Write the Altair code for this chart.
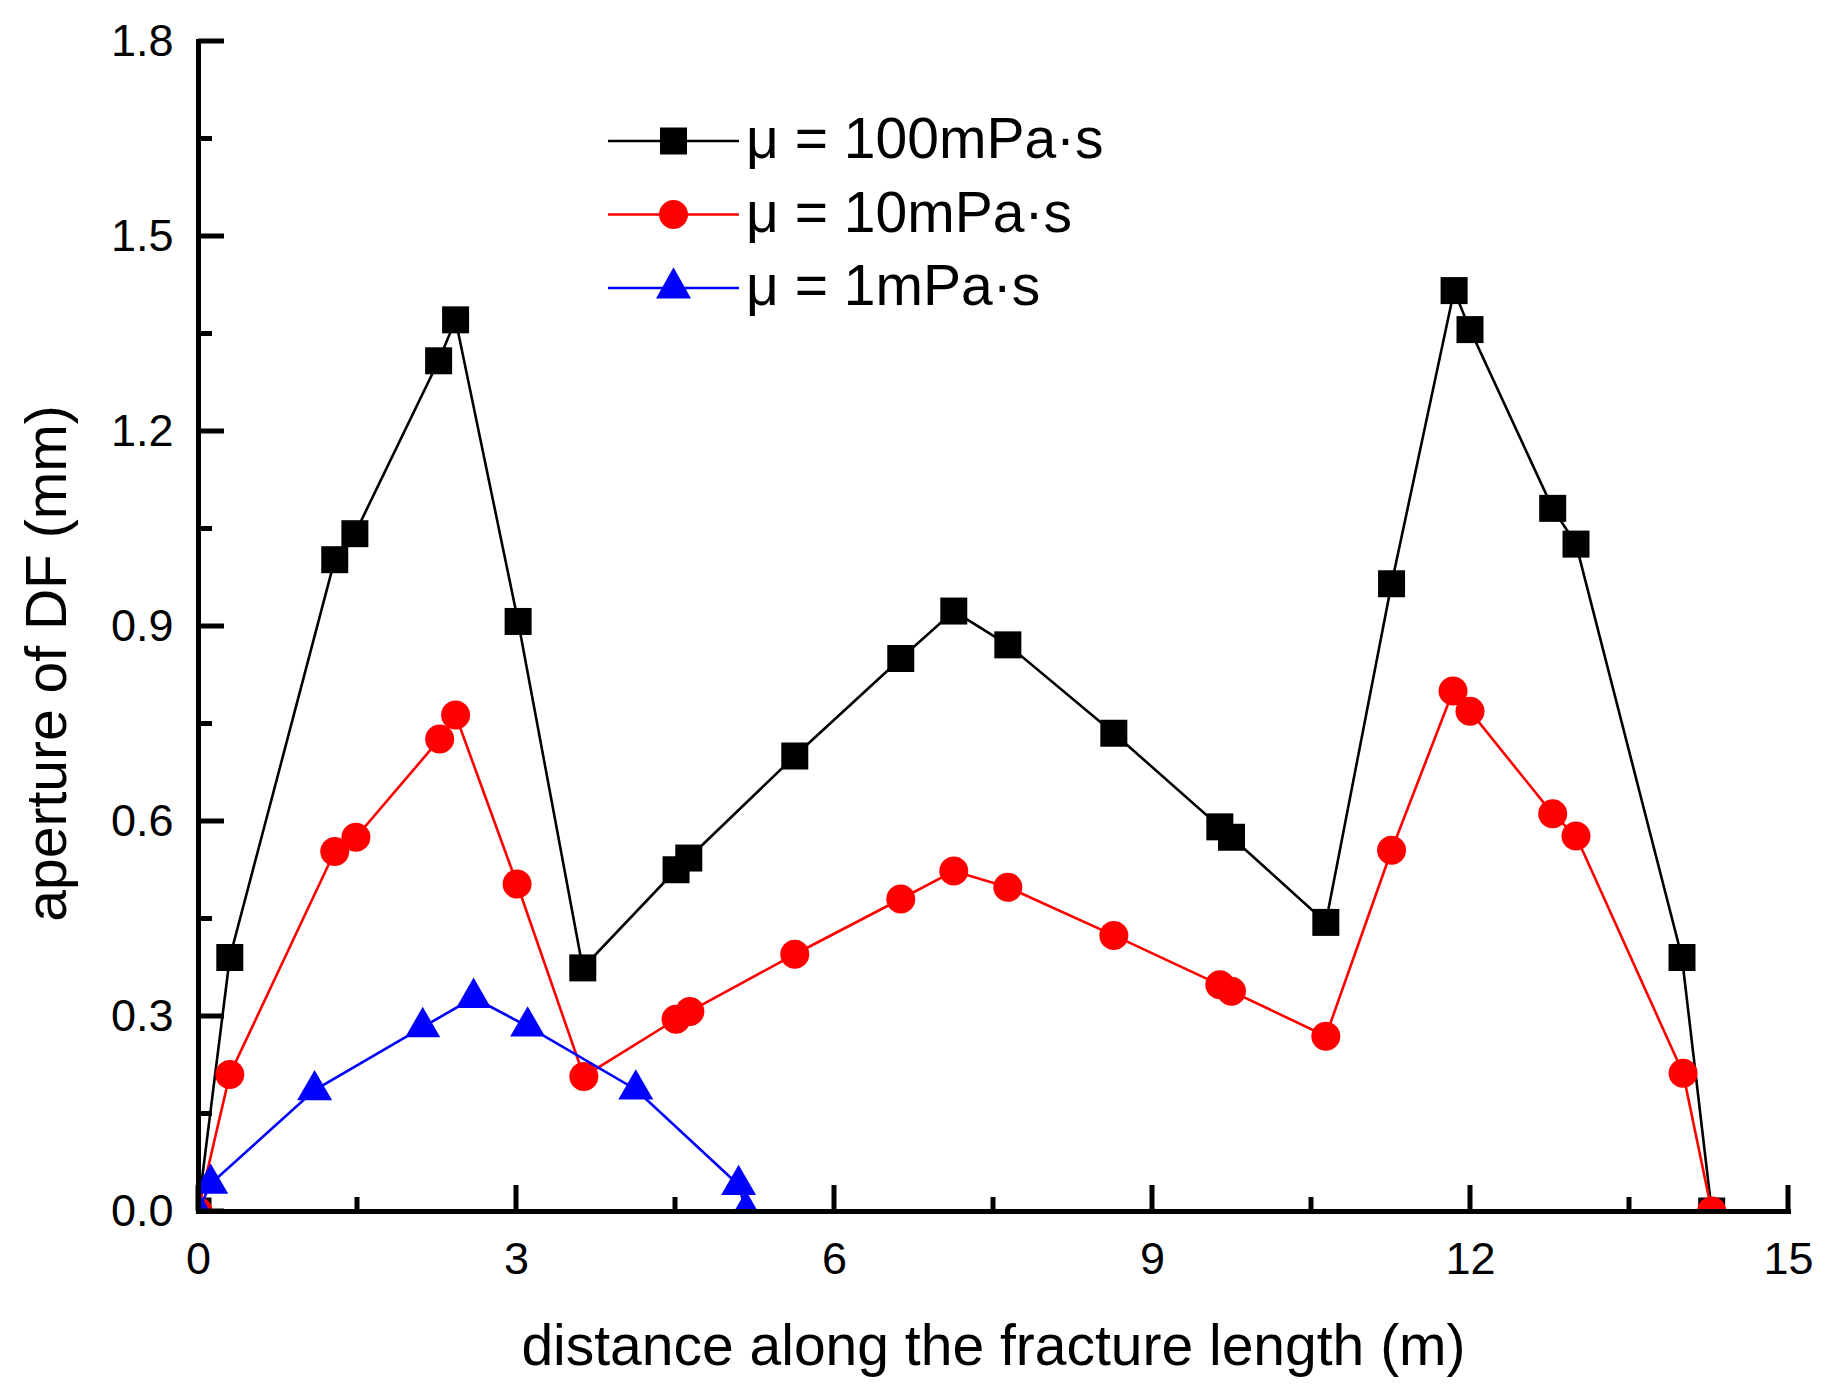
import math
import altair as alt
import pandas as pd

# ---------------- data ----------------
SERIES = ["μ = 100mPa·s", "μ = 10mPa·s", "μ = 1mPa·s"]
COLORS = ["#000000", "#ff0000", "#0000ff"]

x_100 = [0.0, 0.30, 1.29, 1.48, 2.27, 2.43, 3.02, 3.63, 4.51, 4.63, 5.63, 6.63, 7.13,
         7.64, 8.64, 9.64, 9.75, 10.64, 11.26, 11.85, 12.00, 12.78, 13.00, 14.00, 14.28]
y_100 = [0.0, 0.39, 1.002, 1.042, 1.308, 1.371, 0.907, 0.374, 0.525, 0.543, 0.700, 0.850, 0.923,
         0.871, 0.735, 0.591, 0.575, 0.444, 0.965, 1.416, 1.356, 1.081, 1.026, 0.390, 0.0]

x_10 = [0.0, 0.30, 1.29, 1.49, 2.28, 2.43, 3.01, 3.64, 4.51, 4.64, 5.63, 6.63, 7.13,
        7.64, 8.64, 9.64, 9.75, 10.64, 11.26, 11.84, 12.00, 12.78, 13.00, 14.01, 14.28]
y_10 = [0.0, 0.210, 0.553, 0.575, 0.726, 0.763, 0.503, 0.207, 0.295, 0.307, 0.395, 0.480, 0.523,
        0.498, 0.424, 0.348, 0.338, 0.269, 0.555, 0.800, 0.769, 0.611, 0.577, 0.212, 0.0]

x_1 = [0.0, 0.12, 1.10, 2.12, 2.60, 3.11, 4.13, 5.10, 5.17]
y_1 = [0.0, 0.042, 0.186, 0.283, 0.328, 0.284, 0.187, 0.040, 0.0]

x_major = [0, 3, 6, 9, 12, 15]
x_minor = [1.5, 4.5, 7.5, 10.5, 13.5]
y_major = [0.0, 0.3, 0.6, 0.9, 1.2, 1.5, 1.8]
y_minor = [0.15, 0.45, 0.75, 1.05, 1.35, 1.65]

X_TITLE = "distance along the fracture length (m)"
Y_TITLE = "aperture of DF (mm)"

# ---------------- styling ----------------
W, H = 1590, 1170
FONT = "Liberation Sans"
LINE_W = 2.6
AXIS_W = 5
MAJOR_LEN, MINOR_LEN = 26, 14

# marker shapes (triangle centred on its centroid, as in the original)
TRI = "M0,-1.155L1,0.577L-1,0.577Z"
MARKERS = [("square", 729), ("circle", 841), (TRI, 1225)]

# legend symbols: line segment + marker, in units of 28 px (symbol size 56^2)
LEG_SIZE = 3136
U = 28.0
half_line = 65.5 / U
half_thick = (LINE_W / 2) / U


def rect(x0, y0, x1, y1):
    return f"M{x0:.3f},{y0:.3f}L{x1:.3f},{y0:.3f}L{x1:.3f},{y1:.3f}L{x0:.3f},{y1:.3f}Z"


def poly_circle(r, n=36):
    pts = [(r * math.cos(2 * math.pi * k / n), r * math.sin(2 * math.pi * k / n)) for k in range(n)]
    return "M" + "L".join(f"{px:.3f},{py:.3f}" for px, py in pts) + "Z"


line_part = rect(-half_line, -half_thick, half_line, half_thick)
sq = 13.5 / U
leg_square = line_part + rect(-sq, -sq, sq, sq)
leg_circle = line_part + poly_circle(14.5 / U)
tw, tt, tb = 17.5 / U, -20.7 / U, 10.4 / U
leg_tri = line_part + f"M0,{tt:.3f}L{tw:.3f},{tb:.3f}L{-tw:.3f},{tb:.3f}Z"
LEG_PATHS = [leg_square, leg_circle, leg_tri]

# ---------------- scales & axes ----------------
xs = alt.Scale(domain=[0, 15], nice=False, zero=False)
ys = alt.Scale(domain=[0, 1.8], nice=False, zero=False)

x_axis = alt.Axis(
    values=x_major, format="d", ticks=False, tickSize=0, grid=False,
    domainColor="black", domainWidth=AXIS_W, domainCap="square",
    labelFont=FONT, labelFontSize=45, labelColor="black", labelPadding=26,
    labelFlush=False, labelOverlap=False,
    title=X_TITLE, titleFont=FONT, titleFontSize=57, titleFontWeight="normal",
    titleColor="black", titleY=108, zindex=1,
)
y_axis = alt.Axis(
    values=y_major, format=".1f", ticks=False, tickSize=0, grid=False,
    domainColor="black", domainWidth=AXIS_W, domainCap="square",
    labelFont=FONT, labelFontSize=45, labelColor="black", labelPadding=25,
    labelFlush=False, labelOverlap=False,
    title=Y_TITLE, titleFont=FONT, titleFontSize=57, titleFontWeight="normal",
    titleColor="black", titleX=-133, titleY=622, titleBaseline="alphabetic",
    titleAlign="center", titleAngle=270, zindex=1,
)

X = alt.X("x:Q", scale=xs, axis=x_axis)
Y = alt.Y("y:Q", scale=ys, axis=y_axis)

layers = []
for xv, yv, name, color, (shape, size) in zip(
    [x_100, x_10, x_1], [y_100, y_10, y_1], SERIES, COLORS, MARKERS
):
    df = pd.DataFrame({"x": xv, "y": yv, "series": name})
    base = alt.Chart(df).encode(x=X, y=Y)
    layers.append(base.mark_line(color=color, strokeWidth=LINE_W, clip=True))
    layers.append(
        base.mark_point(shape=shape, size=size, filled=True, color=color,
                        opacity=1, strokeWidth=0, clip=True)
    )

# inward ticks
tick_style = dict(color="black", strokeWidth=AXIS_W)
for vals, ln in [(x_major, MAJOR_LEN), (x_minor, MINOR_LEN)]:
    layers.append(
        alt.Chart(pd.DataFrame({"x": vals})).mark_rule(**tick_style).encode(
            x=X, y=alt.value(H), y2=alt.value(H - ln)
        )
    )
for vals, ln in [(y_major, MAJOR_LEN), (y_minor, MINOR_LEN)]:
    layers.append(
        alt.Chart(pd.DataFrame({"y": vals})).mark_rule(**tick_style).encode(
            y=Y, x=alt.value(0), x2=alt.value(ln)
        )
    )

# legend carrier (no marks drawn, legend built from the scale domain)
legend = alt.Legend(
    title=None, orient="none", legendX=447, legendY=71.5, padding=0,
    labelFont=FONT, labelFontSize=57, labelColor="black", labelOffset=44,
    labelLimit=2000, symbolSize=LEG_SIZE, symbolStrokeWidth=0, symbolOpacity=1,
    symbolOffset=0, rowPadding=15.5,
)
leg_df = pd.DataFrame({"x": [0.0] * 3, "y": [0.0] * 3, "series": SERIES})
layers.append(
    alt.Chart(leg_df).transform_filter("false").mark_point(
        filled=True, opacity=1, size=LEG_SIZE, strokeWidth=0
    ).encode(
        x=X, y=Y,
        color=alt.Color("series:N", scale=alt.Scale(domain=SERIES, range=COLORS), legend=legend),
        shape=alt.Shape("series:N", scale=alt.Scale(domain=SERIES, range=LEG_PATHS), legend=legend),
    )
)

chart = (
    alt.layer(*layers)
    .properties(
        width=W, height=H,
        autosize=alt.AutoSizeParams(type="none"),
        padding={"left": 190, "top": 33, "right": 30, "bottom": 180},
        background="white",
    )
    .configure_view(stroke="transparent")
)

chart.save("out.html", embed_options={"renderer": "svg", "actions": False})
